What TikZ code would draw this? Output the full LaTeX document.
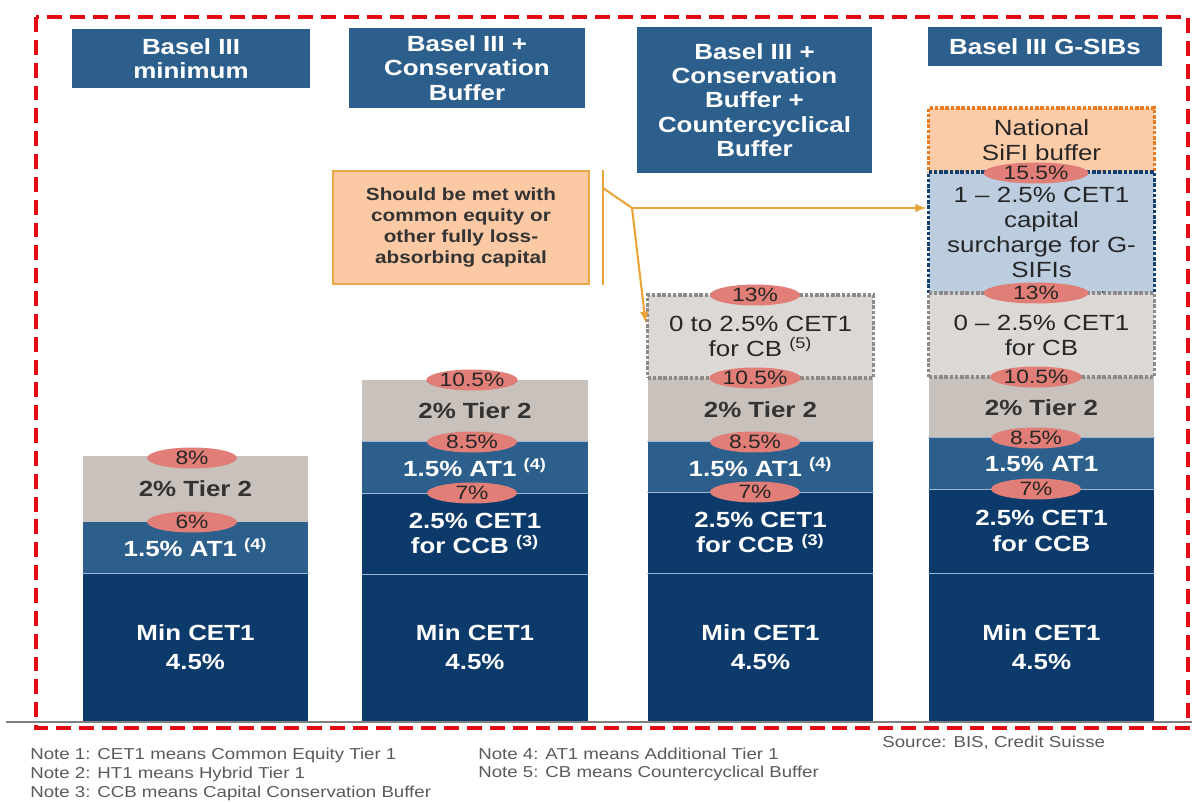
\documentclass[tikz,border=0pt]{standalone}
\usepackage{fontspec}
\setmainfont{Liberation Sans}[FakeStretch=1.18]
\usetikzlibrary{shapes.geometric}

\definecolor{hdrblue}{HTML}{2C5F8C}
\definecolor{navy}{HTML}{0C3A6B}
\definecolor{tiergray}{HTML}{C9C1BC}
\definecolor{cbgray}{HTML}{DCD8D5}
\definecolor{cbline}{HTML}{8E8A87}
\definecolor{surblue}{HTML}{BCCDE0}
\definecolor{surline}{HTML}{123F6E}
\definecolor{sififill}{HTML}{FCCCA8}
\definecolor{sifiline}{HTML}{EC7A1E}
\definecolor{notefill}{HTML}{FBC9A4}
\definecolor{noteline}{HTML}{E9A948}
\definecolor{bracket}{HTML}{E9A43A}
\definecolor{pctpink}{HTML}{E17E77}
\definecolor{sepblue}{HTML}{9DB8D6}
\definecolor{dashred}{HTML}{E30A13}
\definecolor{notegray}{HTML}{5A5A5A}

\tikzstyle{hdr}=[fill=hdrblue, text=white, align=center, inner sep=0pt, font=\bfseries\fontsize{12.5}{13.8}\selectfont]
\tikzstyle{seg}=[inner sep=0pt, align=center, minimum width=4.52cm, font=\bfseries\fontsize{12.5}{14.5}\selectfont]
\tikzstyle{core}=[seg, fill=navy, text=white, font=\bfseries\fontsize{12.5}{16.5}\selectfont]
\tikzstyle{ccb}=[seg, fill=navy, text=white]
\tikzstyle{atseg}=[seg, fill=hdrblue, text=white]
\tikzstyle{tier}=[seg, fill=tiergray, text=black!80]
\tikzstyle{dotbox}=[seg, line width=2.2pt, dash pattern=on 2pt off 1pt, text=black!85, font=\fontsize{12.5}{14.2}\selectfont]
\tikzstyle{cbbox}=[dotbox, fill=cbgray, draw=cbline]
\tikzstyle{surbox}=[dotbox, fill=surblue, draw=surline]
\tikzstyle{sifibox}=[dotbox, fill=sififill, draw=sifiline]
\tikzstyle{pct}=[ellipse, fill=pctpink, inner sep=0pt, minimum width=1.8cm, minimum height=0.42cm, text=black!85, font=\fontsize{11}{12}\selectfont]
\tikzstyle{segline}=[draw=sepblue, line width=0.8pt]
\tikzstyle{brk}=[draw=bracket, line width=1.2pt]
\tikzstyle{ptr}=[brk, -latex]
\tikzstyle{redframe}=[draw=dashred, line width=2.3pt, dash pattern=on 8.5pt off 4.5pt]
\tikzstyle{note}=[anchor=west, inner sep=0pt, text=notegray, font=\fontsize{9}{11}\selectfont]

\begin{document}
\begin{tikzpicture}[x=0.02cm, y=-0.02cm]
  \useasboundingbox (0,0) rectangle (1192,803);

  \node[hdr, minimum width=4.76cm, minimum height=1.18cm] (h1) at (191,58.5) {Basel III\\minimum};
  \node[hdr, minimum width=4.72cm, minimum height=1.6cm] (h2) at (467,68) {Basel III +\\Conservation\\Buffer};
  \node[hdr, minimum width=4.7cm, minimum height=2.92cm] (h3) at (754.5,100) {Basel III +\\Conservation\\Buffer +\\Countercyclical\\Buffer};
  \node[hdr, minimum width=4.68cm, minimum height=0.78cm] (h4) at (1045,46.5) {Basel III G-SIBs};

  \node[core, minimum height=2.96cm] (min1) at (195.5,647) {Min CET1\\4.5\%};
  \node[atseg, minimum height=1.02cm] (at1) at (195.5,547.5) {1.5\% AT1 \textsuperscript{(4)}};
  \node[tier, minimum height=1.32cm] (tier1) at (195.5,489) {2\% Tier 2};

  \node[core, minimum height=2.94cm] (min2) at (475,647.5) {Min CET1\\4.5\%};
  \node[ccb, minimum height=1.62cm] (ccb2) at (475,533.5) {2.5\% CET1\\for CCB \textsuperscript{(3)}};
  \node[atseg, minimum height=1.02cm] (at2) at (475,467.5) {1.5\% AT1 \textsuperscript{(4)}};
  \node[tier, minimum height=1.24cm] (tier2) at (475,411) {2\% Tier 2};

  \node[core, minimum height=2.96cm] (min3) at (760.5,647) {Min CET1\\4.5\%};
  \node[ccb, minimum height=1.62cm] (ccb3) at (760.5,532.5) {2.5\% CET1\\for CCB \textsuperscript{(3)}};
  \node[atseg, minimum height=1.0cm] (at3) at (760.5,467) {1.5\% AT1 \textsuperscript{(4)}};
  \node[tier, minimum height=1.28cm] (tier3) at (760.5,410) {2\% Tier 2};
  \node[cbbox, minimum height=1.66cm] (cb3) at (760.5,336.5) {0 to 2.5\% CET1\\for CB \textsuperscript{(5)}};

  \node[core, minimum height=2.96cm] (min4) at (1041.5,647) {Min CET1\\4.5\%};
  \node[ccb, minimum height=1.68cm] (ccb4) at (1041.5,531) {2.5\% CET1\\for CCB};
  \node[atseg, minimum height=1.02cm] (at4) at (1041.5,463.5) {1.5\% AT1};
  \node[tier, minimum height=1.22cm] (tier4) at (1041.5,407.5) {2\% Tier 2};
  \node[sifibox, minimum height=1.28cm] (sifi4) at (1041.5,140) {National\\SiFI buffer};
  \node[surbox, minimum height=2.42cm] (sur4) at (1041.5,232.5) {1 -- 2.5\% CET1\\capital\\surcharge for G-\\SIFIs};
  \node[cbbox, minimum height=1.68cm] (cb4) at (1041.5,335) {0 -- 2.5\% CET1\\for CB};

  \draw[segline] (at1.south west) to (at1.south east);
  \draw[segline] (at2.north west) to (at2.north east);
  \draw[segline] (at2.south west) to (at2.south east);
  \draw[segline] (ccb2.south west) to (ccb2.south east);
  \draw[segline] (at3.north west) to (at3.north east);
  \draw[segline] (at3.south west) to (at3.south east);
  \draw[segline] (ccb3.south west) to (ccb3.south east);
  \draw[segline] (at4.north west) to (at4.north east);
  \draw[segline] (at4.south west) to (at4.south east);
  \draw[segline] (ccb4.south west) to (ccb4.south east);

  \node[pct] (p8) at (192,458) {8\%};
  \node[pct] (p6) at (192,522) {6\%};
  \node[pct] (p105b) at (472,380) {10.5\%};
  \node[pct] (p85b) at (472,442) {8.5\%};
  \node[pct] (p7b) at (472,493) {7\%};
  \node[pct] (p13c) at (755,295) {13\%};
  \node[pct] (p105c) at (755,378) {10.5\%};
  \node[pct] (p85c) at (755,442) {8.5\%};
  \node[pct] (p7c) at (755,492) {7\%};
  \node[pct, minimum width=2.1cm] (p155d) at (1036,173) {15.5\%};
  \node[pct, minimum width=2.1cm] (p13d) at (1036,293) {13\%};
  \node[pct] (p105d) at (1036,377) {10.5\%};
  \node[pct] (p85d) at (1036,438) {8.5\%};
  \node[pct] (p7d) at (1036,489) {7\%};

  \node[draw=noteline, fill=notefill, line width=1pt, align=center, inner sep=0pt, minimum width=5.12cm, minimum height=2.26cm, text=black!80, font=\bfseries\fontsize{10}{11.9}\selectfont] (equity) at (461,227.5) {Should be met with\\common equity or\\other fully loss-\\absorbing capital};

  \coordinate (brtop) at (603,170);
  \coordinate (brbot) at (603,285);
  \coordinate (brmid) at (603,188);
  \coordinate (kink) at (632,208);
  \draw[brk] (brtop) to (brbot);
  \draw[brk] (brmid) to (kink);
  \draw[ptr] (kink) to (kink -| sur4.west);
  \draw[ptr] (kink) to ([yshift=0.27cm]cb3.west);

  \draw[draw=gray, line width=1pt] (6,722) -- (1192,722);
  \draw[redframe] (36,17) rectangle (1188,728);

  \node[note] (n1) at (30,755) {Note 1: CET1 means Common Equity Tier 1};
  \node[note] (n2) at (30,774) {Note 2: HT1 means Hybrid Tier 1};
  \node[note] (n3) at (30,793) {Note 3: CCB means Capital Conservation Buffer};
  \node[note] (n4) at (478,754) {Note 4: AT1 means Additional Tier 1};
  \node[note] (n5) at (478,773) {Note 5: CB means Countercyclical Buffer};
  \node[note] (src) at (882,743) {Source: BIS, Credit Suisse};
\end{tikzpicture}
\end{document}
